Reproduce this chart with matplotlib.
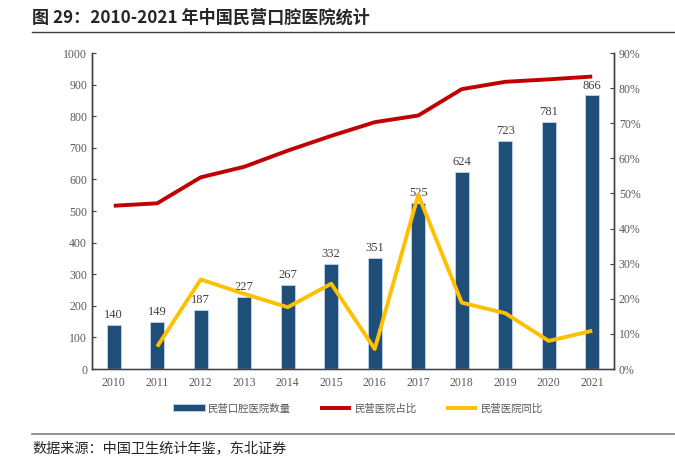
import matplotlib.pyplot as plt
import numpy as np
from matplotlib.ticker import FuncFormatter

plt.rcParams['font.family'] = ['Liberation Serif', 'Noto Sans CJK SC']
plt.rcParams['figure.dpi'] = 100

years = ['2010', '2011', '2012', '2013', '2014', '2015',
         '2016', '2017', '2018', '2019', '2020', '2021']
counts = [140, 149, 187, 227, 267, 332, 351, 525, 624, 723, 781, 866]
share = [46.5, 47.2, 54.6, 57.6, 62.2, 66.4, 70.3, 72.2, 79.7, 81.8, 82.5, 83.3]
yoy = [None, 6.4, 25.5, 21.4, 17.6, 24.3, 5.7, 49.6, 18.9, 15.9, 8.0, 10.9]

BLUE = '#1F4E79'
RED = '#C00000'
YELLOW = '#FFC000'
GRAY = '#595959'
CJK = ['Noto Sans CJK SC', 'DejaVu Sans']

fig = plt.figure(figsize=(6.75, 4.63))
ax = fig.add_axes([0.1363, 0.203, 0.7733, 0.6825])
ax2 = ax.twinx()

x = np.arange(len(years))
bars = ax.bar(x, counts, width=0.33, color=BLUE, edgecolor='#BDD7EE',
              linewidth=0.6, label='民营口腔医院数量', zorder=2)
for xi, v in zip(x, counts):
    ax.text(xi, v + 12, str(v), ha='center', va='bottom', fontsize=9,
            color='#404040', zorder=5)

ax.set_xlim(-0.5, len(years) - 0.5)
ax.set_ylim(0, 1000)
ax.set_yticks(np.arange(0, 1001, 100))
ax.set_xticks(x)
ax.set_xticklabels(years)

# 2010 has no yoy value
xs = [xi for xi, v in zip(x, yoy) if v is not None]
ys = [v for v in yoy if v is not None]
l1, = ax2.plot(x, share, color=RED, lw=2.8, solid_capstyle='butt', label='民营医院占比', zorder=3)
l2, = ax2.plot(xs, ys, color=YELLOW, lw=2.8, solid_capstyle='butt', label='民营医院同比', zorder=3)
ax2.set_ylim(0, 90)
ax2.set_yticks(np.arange(0, 91, 10))
ax2.yaxis.set_major_formatter(FuncFormatter(lambda v, p: '%d%%' % v))

for a in (ax, ax2):
    a.spines['top'].set_visible(False)
    for s in ('left', 'right', 'bottom'):
        a.spines[s].set_color('#404040')
        a.spines[s].set_linewidth(1.0)
    a.tick_params(axis='y', direction='in', length=3, labelsize=8.5, labelcolor=GRAY, color='#404040')
    a.tick_params(axis='x', length=0, labelsize=8.5, labelcolor=GRAY, pad=6)
ax.spines['bottom'].set_color('#A6A6A6')
ax2.set_zorder(2)
ax.set_zorder(1)
ax2.patch.set_visible(False)

leg = fig.legend([bars, l1, l2], ['民营口腔医院数量', '民营医院占比', '民营医院同比'],
                 loc='center', bbox_to_anchor=(0.53, 0.118), ncol=3, frameon=False,
                 prop={'family': CJK, 'size': 7.5}, handlelength=3.0,
                 handletextpad=0.3, columnspacing=2.8)
for t in leg.get_texts():
    t.set_color(GRAY)

fig.text(0.048, 0.962, '图 29：2010-2021 年中国民营口腔医院统计', fontsize=12.3,
         fontweight='bold', family=CJK, va='center', ha='left', color='#262626')
fig.add_artist(plt.Line2D([0.047, 1.0], [0.931, 0.931], color='#404040', lw=1.0))
fig.add_artist(plt.Line2D([0.047, 1.0], [0.063, 0.063], color='#808080', lw=1.2))
fig.text(0.048, 0.033, '数据来源：中国卫生统计年鉴，东北证券', fontsize=10.2,
         family=CJK, va='center', ha='left', color='#262626')

fig.savefig('out.png', dpi=100)
